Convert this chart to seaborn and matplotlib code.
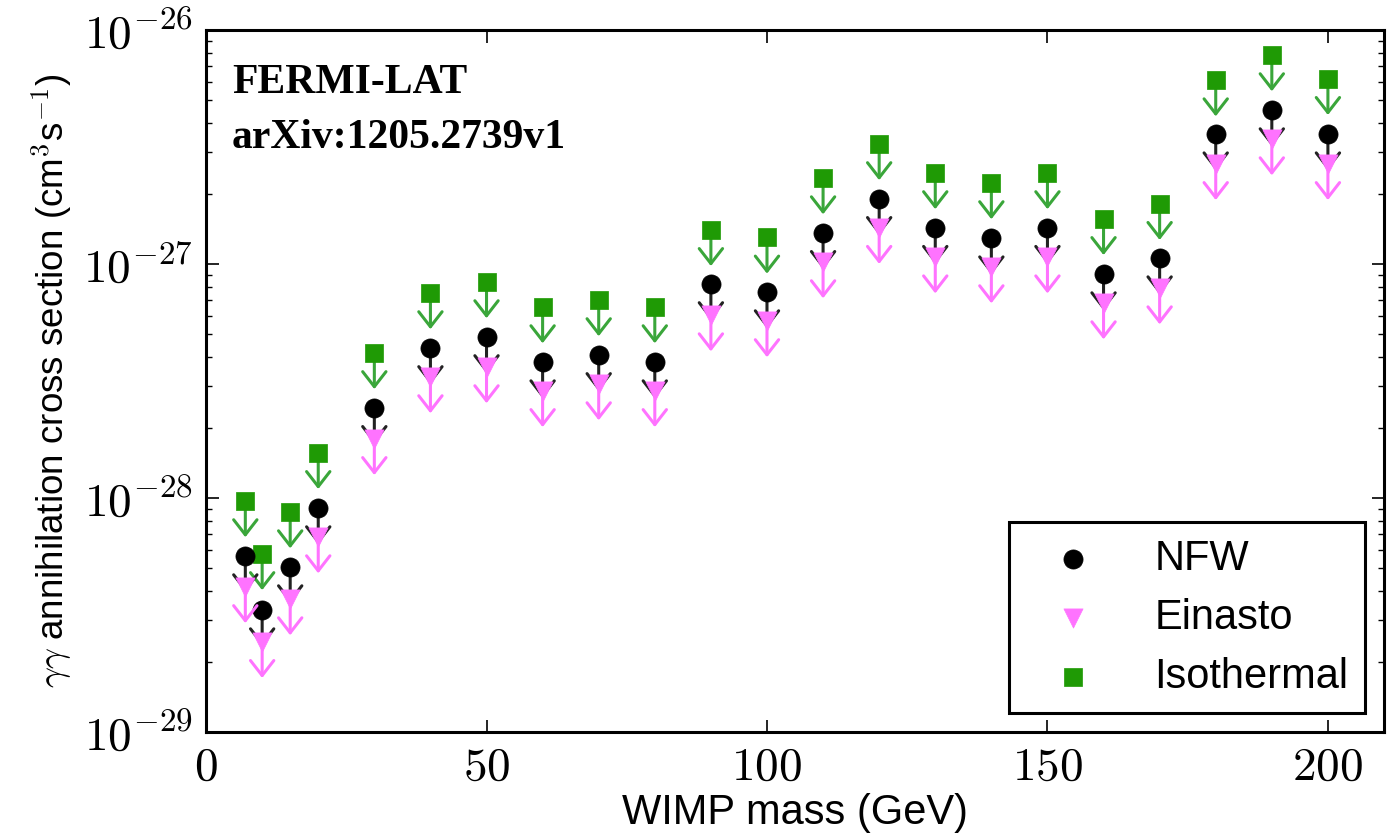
import numpy as np
import pandas as pd
import matplotlib
matplotlib.use("Agg")
import matplotlib.pyplot as plt
from matplotlib.ticker import FuncFormatter, FixedLocator, LogLocator, NullFormatter
import seaborn as sns

# WIMP masses (GeV)
mass = [7, 10, 15, 20, 30, 40, 50, 60, 70, 80, 90, 100,
        110, 120, 130, 140, 150, 160, 170, 180, 190, 200]

# 95% upper limits on <sigma v>_{gamma gamma} (cm^3 s^-1) for three halo profiles
nfw = [5.65e-29, 3.32e-29, 5.07e-29, 9.06e-29, 2.43e-28, 4.38e-28, 4.88e-28,
       3.81e-28, 4.09e-28, 3.81e-28, 8.22e-28, 7.59e-28, 1.36e-27, 1.90e-27,
       1.43e-27, 1.29e-27, 1.43e-27, 9.06e-28, 1.06e-27, 3.59e-27, 4.55e-27,
       3.59e-27]
einasto = [4.17e-29, 2.43e-29, 3.70e-29, 6.81e-29, 1.79e-28, 3.29e-28, 3.63e-28,
           2.87e-28, 3.07e-28, 2.87e-28, 6.05e-28, 5.71e-28, 1.02e-27, 1.43e-27,
           1.07e-27, 9.71e-28, 1.07e-27, 6.81e-28, 7.89e-28, 2.68e-27, 3.42e-27,
           2.68e-27]
isothermal = [9.71e-29, 5.77e-29, 8.71e-29, 1.56e-28, 4.17e-28, 7.52e-28, 8.38e-28,
              6.55e-28, 7.02e-28, 6.55e-28, 1.40e-27, 1.30e-27, 2.33e-27, 3.26e-27,
              2.45e-27, 2.22e-27, 2.45e-27, 1.56e-27, 1.81e-27, 6.11e-27, 7.82e-27,
              6.19e-27]

x_ticks = [0, 50, 100, 150, 200]
legend_order = ["NFW", "Einasto", "Isothermal"]

df = pd.DataFrame({"mass": mass, "NFW": nfw, "Einasto": einasto,
                   "Isothermal": isothermal})

sns.set_theme(style="ticks")
plt.rcParams["font.family"] = ["Liberation Sans", "DejaVu Sans"]
plt.rcParams["mathtext.fontset"] = "cm"
for key in ("text.color", "axes.labelcolor", "xtick.color", "ytick.color",
            "axes.edgecolor"):
    plt.rcParams[key] = "black"

fig = plt.figure(figsize=(13.97, 8.34), dpi=100)
ax = fig.add_axes([0.1475, 0.1223, 0.8432, 0.8417])

# drawing order: Isothermal underneath, then NFW, then Einasto on top
styles = [
    ("Isothermal", "s", "#1f9a05", "#3aa63a", 150),
    ("NFW", "o", "black", "#222222", 190),
    ("Einasto", "v", "#ff73ff", "#ff73ff", 190),
]
arrow_frac = 0.70
for name, mk, col, acol, size in styles:
    for xv, yv in zip(df["mass"], df[name]):
        ax.annotate("", xy=(xv, yv * arrow_frac), xytext=(xv, yv),
                    arrowprops=dict(arrowstyle="->,head_length=0.45,head_width=0.35",
                                    color=acol, lw=2.2, mutation_scale=24,
                                    shrinkA=0, shrinkB=0))
    sns.scatterplot(data=df, x="mass", y=name, marker=mk, color=col, s=size,
                    edgecolor=col, linewidth=0.5, label=name, ax=ax, zorder=3)

ax.set_yscale("log")
ax.set_xlim(0, 210)
ax.set_ylim(1e-29, 1e-26)

ax.xaxis.set_major_locator(FixedLocator(x_ticks))
ax.xaxis.set_major_formatter(FuncFormatter(lambda v, p: r"$%d$" % v))
ax.yaxis.set_major_locator(LogLocator(base=10))
ax.yaxis.set_minor_locator(LogLocator(base=10, subs=np.arange(2, 10)))
ax.yaxis.set_major_formatter(FuncFormatter(lambda v, p: r"$10^{%d}$" % round(np.log10(v))))
ax.yaxis.set_minor_formatter(NullFormatter())

ax.tick_params(which="both", direction="in", top=True, right=True,
               labelsize=34, pad=10, color="black", labelcolor="black")
ax.tick_params(which="major", length=9, width=1.2)
ax.tick_params(which="minor", length=4.5, width=1.0)
for sp in ax.spines.values():
    sp.set_linewidth(2.2)
    sp.set_color("black")

ax.set_xlabel("WIMP mass (GeV)", fontsize=30, labelpad=2, color="black")
ax.set_ylabel(r"$\gamma\gamma$ annihilation cross section (cm$^3$s$^{-1}$)",
              fontsize=26.5, labelpad=6, color="black")

ax.text(0.022, 0.910, "FERMI-LAT", transform=ax.transAxes, fontsize=30,
        fontweight="bold", color="black", family=["Liberation Serif", "DejaVu Serif"])
ax.text(0.022, 0.832, "arXiv:1205.2739v1", transform=ax.transAxes, fontsize=30,
        fontweight="bold", color="black", family=["Liberation Serif", "DejaVu Serif"])

h, l = ax.get_legend_handles_labels()
lookup = dict(zip(l, h))
leg = ax.legend([lookup[k] for k in legend_order], legend_order, loc="lower right",
                fontsize=30, frameon=True, fancybox=False, framealpha=1,
                edgecolor="black", borderaxespad=0.45, labelspacing=0.45,
                handlelength=2.3)
leg.get_frame().set_linewidth(2.2)
for t in leg.get_texts():
    t.set_color("black")

fig.savefig("out.png", dpi=100)
